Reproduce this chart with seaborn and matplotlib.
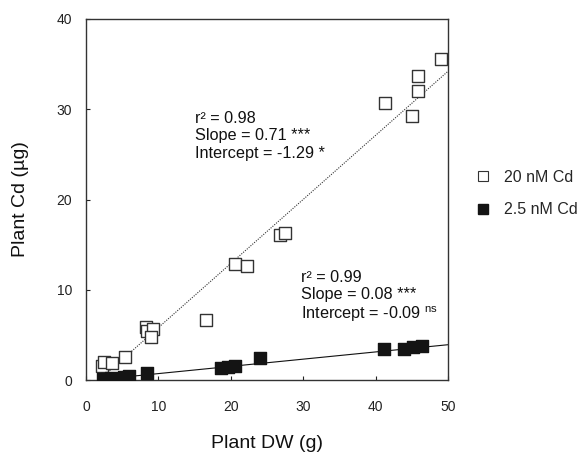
import numpy as np
import pandas as pd
import matplotlib
matplotlib.use("Agg")
import matplotlib.pyplot as plt
import seaborn as sns
from matplotlib.lines import Line2D

# ---- data ----
dw_20 = [2.2, 2.5, 3.6, 5.4, 8.3, 8.4, 9.3, 9.0, 16.6, 20.6, 22.3, 26.8, 27.5, 41.3, 45.0, 45.9, 45.9, 49.0]
cd_20 = [1.6, 2.0, 1.85, 2.6, 5.9, 5.4, 5.6, 4.8, 6.6, 12.9, 12.6, 16.1, 16.3, 30.7, 29.2, 32.0, 33.7, 35.6]
dw_25 = [2.4, 2.9, 3.45, 5.3, 6.0, 8.4, 18.6, 19.6, 20.6, 24.0, 41.2, 43.9, 45.2, 46.4]
cd_25 = [0.1, 0.15, 0.2, 0.3, 0.45, 0.74, 1.3, 1.4, 1.6, 2.4, 3.45, 3.45, 3.7, 3.8]
series = ["20 nM Cd", "2.5 nM Cd"]
slopes = [0.71, 0.08]
intercepts = [-1.29, -0.09]
r2 = [0.98, 0.99]
fit_ranges = [(3.0, 50.0), (5.0, 50.0)]
x_ticks = [0, 10, 20, 30, 40, 50]
y_ticks = [0, 10, 20, 30, 40]

df = pd.DataFrame({
    "dw": dw_20 + dw_25,
    "cd": cd_20 + cd_25,
    "group": [series[0]] * len(dw_20) + [series[1]] * len(dw_25),
})

sns.set_theme(style="ticks")
plt.rcParams["font.family"] = ["Liberation Sans", "DejaVu Sans"]
plt.rcParams["mathtext.fontset"] = "custom"
plt.rcParams["mathtext.rm"] = "Liberation Sans"
plt.rcParams["mathtext.it"] = "Liberation Sans:italic"

fig = plt.figure(figsize=(5.82, 4.57), dpi=100)
ax = fig.add_axes([86 / 582, 1 - 380 / 457, 362 / 582, 361 / 457])

# fit lines
styles = [dict(color="#333333", lw=0.8, ls=(0, (1, 1.2))), dict(color="#111111", lw=0.8, ls="-")]
for i in range(2):
    xs = np.linspace(fit_ranges[i][0], fit_ranges[i][1], 50)
    ys = slopes[i] * xs + intercepts[i]
    sns.lineplot(x=xs, y=ys, ax=ax, **styles[i], zorder=1)

# points
sub20 = df[df.group == series[0]]
sub25 = df[df.group == series[1]]
sns.scatterplot(data=sub20, x="dw", y="cd", marker="s", s=72, facecolor="white",
                edgecolor="#333333", linewidth=1.0, ax=ax, zorder=3)
sns.scatterplot(data=sub25, x="dw", y="cd", marker="s", s=72, color="#141414",
                edgecolor="#141414", linewidth=1.0, ax=ax, zorder=3)

ax.set_xlim(0, 50)
ax.set_ylim(0, 40)
ax.set_xticks(x_ticks)
ax.set_yticks(y_ticks)
ax.tick_params(axis="both", direction="in", length=3, width=0.8, labelsize=10, colors="#222222")
ax.tick_params(axis="x", pad=14.5)
ax.tick_params(axis="y", pad=10)
for sp in ax.spines.values():
    sp.set_visible(True)
    sp.set_linewidth(1.0)
    sp.set_color("#333333")

ax.set_xlabel("Plant DW (g)", fontsize=14, color="#111111")
ax.set_ylabel("Plant Cd (µg)", fontsize=14, color="#111111")
ax.xaxis.set_label_coords(0.5, -0.151)
ax.yaxis.set_label_coords(-0.157, 0.5)

ax.text(15.05, 27.05,
        f"r² = {r2[0]:.2f}\nSlope = {slopes[0]:.2f} ***\nIntercept = {intercepts[0]:.2f} *",
        fontsize=11.7, va="center", ha="left", color="#111111", linespacing=1.2)
ax.text(29.65, 9.2,
        f"r² = {r2[1]:.2f}\nSlope = {slopes[1]:.2f} ***\nIntercept = {intercepts[1]:.2f}" + r" $^{\mathrm{ns}}$",
        fontsize=11.7, va="center", ha="left", color="#111111", linespacing=1.2)

handles = [
    Line2D([], [], marker="s", ls="", markersize=6.5, markerfacecolor="white",
           markeredgecolor="#333333", markeredgewidth=0.8),
    Line2D([], [], marker="s", ls="", markersize=6.5, markerfacecolor="#141414",
           markeredgecolor="#141414"),
]
fig.legend(handles, series, loc="center left", bbox_to_anchor=(475 / 582, 1 - 193.5 / 457),
           frameon=False, fontsize=11.5, labelspacing=1.1, handletextpad=0.75, handlelength=1.05,
           borderpad=0, borderaxespad=0)

fig.savefig("out.png", dpi=100)
